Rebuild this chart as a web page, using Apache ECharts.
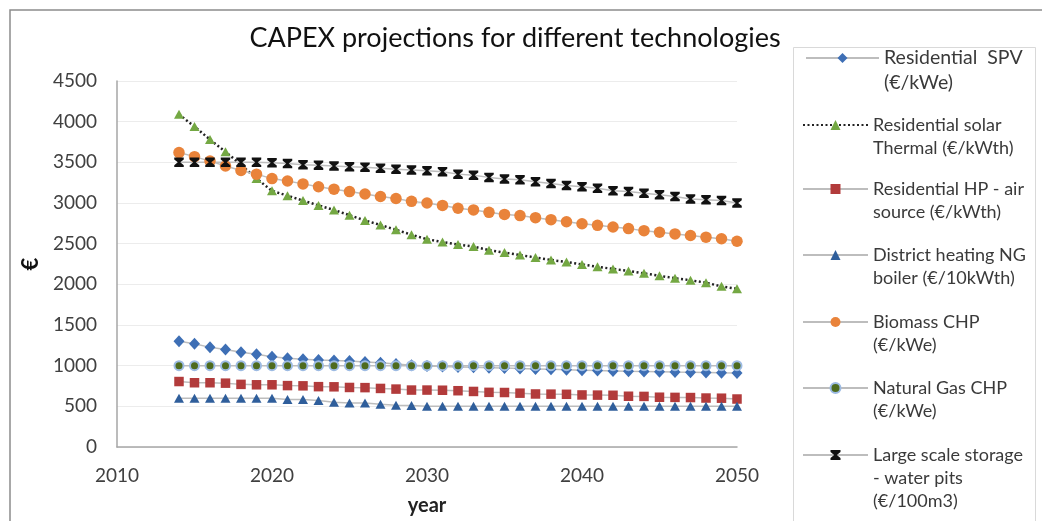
<!DOCTYPE html>
<html>
<head>
<meta charset="utf-8">
<script src="https://cdn.jsdelivr.net/npm/echarts@6/dist/echarts.min.js"></script>
<style>
html,body{margin:0;padding:0;background:#fff;}
#chart{width:1042px;height:521px;}
</style>
</head>
<body>
<div id="chart"></div>
<script>
const years = [2014,2015,2016,2017,2018,2019,2020,2021,2022,2023,2024,2025,2026,2027,2028,2029,2030,2031,2032,2033,2034,2035,2036,2037,2038,2039,2040,2041,2042,2043,2044,2045,2046,2047,2048,2049,2050];
const xTicks = [2010, 2020, 2030, 2040, 2050];
const yTicks = [0,500,1000,1500,2000,2500,3000,3500,4000,4500];

const residentialSPV = [1300,1270,1225,1200,1165,1140,1110,1090,1078,1070,1065,1057,1045,1037,1020,1005,995,990,985,980,975,970,965,960,955,950,945,940,935,930,928,925,922,920,917,913,910];
const solarThermal = [4090,3940,3780,3630,3470,3300,3150,3090,3030,2970,2915,2850,2785,2730,2670,2610,2555,2520,2490,2465,2420,2390,2360,2330,2300,2275,2245,2215,2190,2165,2135,2105,2075,2050,2020,1975,1945];
const heatPumpAir = [805,790,790,785,770,765,765,755,752,742,740,732,730,720,712,700,700,698,692,683,672,670,662,652,650,648,640,638,636,624,622,612,610,608,602,600,590];
const districtNGBoiler = [600,600,600,600,600,600,600,585,585,572,550,540,540,525,512,510,500,500,500,500,500,500,500,500,500,500,500,500,500,500,500,500,500,500,500,500,500];
const biomassCHP = [3620,3570,3515,3455,3400,3355,3300,3270,3235,3200,3170,3140,3110,3080,3055,3020,3000,2970,2935,2915,2885,2860,2845,2820,2795,2770,2745,2725,2705,2685,2660,2640,2620,2600,2580,2560,2530];
const naturalGasCHP = [1000,1000,1000,1000,1000,1000,1000,1000,1000,1000,1000,1000,1000,1000,1000,1000,1000,1000,1000,1000,1000,1000,1000,1000,1000,1000,1000,1000,1000,1000,1000,1000,1000,1000,1000,1000,1000];
const waterPits = [3500,3500,3500,3500,3500,3500,3495,3485,3470,3465,3455,3445,3440,3428,3415,3405,3395,3385,3355,3340,3315,3295,3285,3260,3240,3215,3200,3180,3150,3140,3120,3100,3080,3050,3040,3030,3000];

const seriesNames = [
  'Residential SPV (€/kWe)',
  'Residential solar Thermal (€/kWth)',
  'Residential HP - air source (€/kWth)',
  'District heating NG boiler (€/10kWth)',
  'Biomass CHP (€/kWe)',
  'Natural Gas CHP (€/kWe)',
  'Large scale storage - water pits (€/100m3)'
];
const legendLines = [
  ['Residential  SPV', '(€/kWe)'],
  ['Residential solar', 'Thermal (€/kWth)'],
  ['Residential HP - air', 'source (€/kWth)'],
  ['District heating NG', 'boiler (€/10kWth)'],
  ['Biomass CHP', '(€/kWe)'],
  ['Natural Gas CHP', '(€/kWe)'],
  ['Large scale storage', '- water pits', '(€/100m3)']
];
const seriesValues = [residentialSPV, solarThermal, heatPumpAir, districtNGBoiler, biomassCHP, naturalGasCHP, waterPits];

const FONT = 'Lato, "Open Sans", sans-serif';
const grayLine = {color: '#bdbdbd', width: 1.5, type: 'solid'};
const hourglass = 'path://M0,0 L10,0 L10,2 L6.3,5 L10,8 L10,10 L0,10 L0,8 L3.7,5 L0,2 Z';

const styles = [
  {symbol: 'diamond', symbolSize: [11, 12], itemStyle: {color: '#3E6FB5'}, lineStyle: grayLine},
  {symbol: 'triangle', symbolSize: [10, 9], itemStyle: {color: '#74A843'}, lineStyle: {color: '#222', width: 2.5, type: [2, 2.5]}},
  {symbol: 'rect', symbolSize: 9.5, itemStyle: {color: '#B23B3B'}, lineStyle: grayLine},
  {symbol: 'triangle', symbolSize: [10, 9], itemStyle: {color: '#2F5E9B'}, lineStyle: grayLine},
  {symbol: 'circle', symbolSize: 11.5, itemStyle: {color: '#E9833A'}, lineStyle: grayLine},
  {symbol: 'circle', symbolSize: 9, itemStyle: {color: '#4E6B1E', borderColor: '#9DBBE3', borderWidth: 2}, lineStyle: grayLine},
  {symbol: hourglass, symbolSize: [9.5, 9.5], itemStyle: {color: '#111'}, lineStyle: grayLine}
];

const series = seriesNames.map((name, k) => Object.assign({
  name: name,
  type: 'line',
  data: years.map((y, i) => [y, seriesValues[k][i]]),
  showAllSymbol: true,
  animation: false,
  emphasis: {disabled: true}
}, styles[k]));

// legend layout: icon y position, left, itemWidth, fontSize, lineHeight
const legendIconY = [58, 125, 189, 255, 322, 388, 455];
const legendLeft = [805, 802, 802, 802, 802, 802, 802];
const legendItemW = [73, 65, 65, 65, 65, 65, 65];
const legendFont = [19.5, 18, 18, 18, 18, 18, 18];
const legendLH = [25, 23, 23, 23, 23, 23, 23];

const legends = seriesNames.map((name, k) => {
  const n = legendLines[k].length;
  const L = legendLH[k];
  // blank leading lines keep the icon level with the first text line
  const blanks = new Array(n - 1).fill('');
  const boxH = (2 * n - 1) * L;
  return {
    orient: 'vertical',
    left: legendLeft[k],
    top: legendIconY[k] - boxH / 2,
    padding: 0,
    itemWidth: legendItemW[k],
    itemHeight: 12.5,
    selectedMode: false,
    data: [name],
    formatter: () => blanks.concat(legendLines[k]).join('\n'),
    textStyle: {
      fontFamily: FONT, fontSize: legendFont[k], color: '#3a3a3a',
      lineHeight: L
    }
  };
});

const chart = echarts.init(document.getElementById('chart'), null, {renderer: 'canvas'});
chart.setOption({
  backgroundColor: '#fff',
  animation: false,
  title: {
    text: 'CAPEX projections for different technologies',
    left: 510, top: 20, textAlign: 'center',
    textStyle: {fontFamily: FONT, fontSize: 27, fontWeight: 'normal', color: '#111'}
  },
  graphic: [
    {type: 'polyline', shape: {points: [[10, 530], [10, 10], [1050, 10]]}, style: {stroke: '#8c8c8c', lineWidth: 1.5, fill: null}, silent: true},
    {type: 'rect', shape: {x: 793.5, y: 47.5, width: 242, height: 490}, style: {stroke: '#d9d9d9', lineWidth: 1, fill: null}, silent: true}
  ],
  legend: legends,
  grid: {left: 117, right: 305, top: 81, bottom: 70, containLabel: false},
  xAxis: {
    type: 'value', min: xTicks[0], max: xTicks[xTicks.length - 1], interval: 10,
    name: 'year', nameLocation: 'middle', nameGap: 49,
    nameTextStyle: {fontFamily: FONT, fontSize: 20, fontWeight: 'bold', color: '#222'},
    axisLine: {show: true, lineStyle: {color: '#a6a6a6', width: 1.5}},
    axisTick: {show: false},
    splitLine: {show: false},
    axisLabel: {fontFamily: FONT, fontSize: 19, color: '#404040', margin: 19, formatter: v => String(v)}
  },
  yAxis: {
    type: 'value', min: yTicks[0], max: yTicks[yTicks.length - 1], interval: 500,
    name: '€', nameLocation: 'middle', nameGap: 74, nameRotate: 90,
    nameTextStyle: {fontFamily: FONT, fontSize: 22, fontWeight: 'bold', color: '#111'},
    axisLine: {show: true, lineStyle: {color: '#a6a6a6', width: 1.5}},
    axisTick: {show: false},
    splitLine: {show: true, lineStyle: {color: '#ececec', width: 1}},
    axisLabel: {fontFamily: FONT, fontSize: 19, color: '#404040', margin: 20, formatter: v => String(v)}
  },
  series: series
});
</script>
</body>
</html>
